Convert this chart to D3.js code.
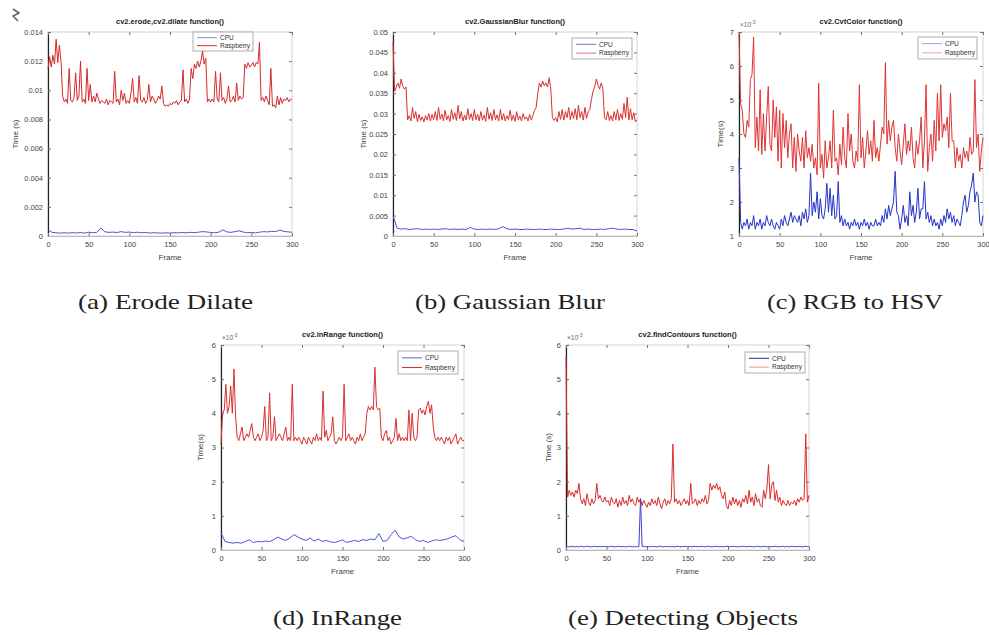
<!DOCTYPE html>
<html><head><meta charset="utf-8">
<script src="https://cdn.jsdelivr.net/npm/d3@7"></script>
<style>body{margin:0;background:#fff}svg{display:block}</style>
</head><body>
<svg id="fig" width="989" height="635"></svg>
<script>
// ---------------- DATA (values in units of 10^-3 s) ----------------
const frameTicks = [0, 50, 100, 150, 200, 250, 300];
const seriesNames = ["CPU", "Raspberry"];
const titles = ["cv2.erode,cv2.dilate function()", "cv2.GaussianBlur function()", "cv2.CvtColor function()", "cv2.inRange function()", "cv2.findContours function()"];
const captions = ["(a) Erode Dilate", "(b) Gaussian Blur", "(c) RGB to HSV", "(d) InRange", "(e) Detecting Objects"];
const yLabels = ["Time (s)", "Time (s)", "Time(s)", "Time(s)", "Time (s)"];

const yTicksA = [0, 2, 4, 6, 8, 10, 12, 14];
const yTickLabelsA = ["0", "0.002", "0.004", "0.006", "0.008", "0.01", "0.012", "0.014"];
const yTicksB = [0, 5, 10, 15, 20, 25, 30, 35, 40, 45, 50];
const yTickLabelsB = ["0", "0.005", "0.01", "0.015", "0.02", "0.025", "0.03", "0.035", "0.04", "0.045", "0.05"];
const yTicksC = [1, 2, 3, 4, 5, 6, 7];
const yTickLabelsC = ["1", "2", "3", "4", "5", "6", "7"];
const yTicksD = [0, 1, 2, 3, 4, 5, 6];
const yTickLabelsD = ["0", "1", "2", "3", "4", "5", "6"];
const yTicksE = [0, 1, 2, 3, 4, 5, 6];
const yTickLabelsE = ["0", "1", "2", "3", "4", "5", "6"];

// (a) erode/dilate — Raspberry every 2 frames, CPU every 5 frames
const raspA = [
 11.5,12.3,11.6,12.4,11.8,13.5,11.9,13.1,12.0,9.6,
 9.2,9.4,9.1,11.5,9.3,9.2,9.5,11.2,9.3,9.6,
 12.0,9.2,9.4,9.1,11.5,9.3,10.4,9.2,9.6,9.2,
 9.8,9.4,9.1,9.3,9.2,9.1,9.4,9.0,9.3,9.2,
 9.1,11.3,9.2,9.4,9.0,10.0,9.3,9.8,9.1,9.3,
 9.1,9.8,10.8,9.2,9.5,9.1,11.0,9.3,9.2,9.5,
 9.1,9.3,10.4,9.2,9.6,9.4,9.1,9.3,9.6,9.4,
 10.3,9.1,8.9,9.0,8.9,9.1,9.0,9.2,9.1,9.3,
 9.0,9.2,9.3,11.4,9.2,9.4,9.1,9.4,11.5,10.8,
 11.8,11.5,12.0,11.6,12.0,12.7,11.8,12.2,9.2,9.4,
 9.2,9.4,9.2,11.3,9.4,9.2,11.2,9.3,9.5,9.1,
 9.4,10.3,9.2,9.3,9.6,9.2,10.5,9.3,9.6,9.4,
 9.5,11.8,11.5,11.9,11.6,11.7,11.9,11.6,11.9,11.8,
 13.3,9.3,9.5,9.2,9.6,9.3,9.0,11.5,8.9,9.0,
 8.8,9.6,9.0,9.5,9.1,9.4,9.3,9.5,9.2,9.4,
 9.3];
const cpuA = [
 0.42,0.25,0.22,0.2,0.22,0.2,0.23,0.21,0.24,0.2,
 0.26,0.22,0.25,0.55,0.28,0.25,0.27,0.24,0.3,0.25,
 0.27,0.23,0.26,0.22,0.24,0.2,0.23,0.21,0.2,0.22,
 0.2,0.23,0.21,0.24,0.22,0.25,0.23,0.26,0.3,0.28,
 0.24,0.22,0.26,0.42,0.28,0.25,0.3,0.36,0.27,0.22,
 0.25,0.21,0.26,0.3,0.28,0.32,0.3,0.4,0.32,0.28,
 0.26];

// (b) GaussianBlur
const raspB = [
 47.5,35.5,36.5,37.5,36.2,38.5,36.8,36.0,36.5,28.5,
 29.5,28.2,31.5,28.8,30.5,28.0,29.8,28.3,29.2,28.0,
 29.5,28.4,30.0,28.2,29.8,28.5,30.5,28.3,31.5,28.6,
 29.9,28.2,30.8,28.5,29.5,28.1,31.0,28.6,30.2,28.3,
 32.0,28.7,30.5,28.2,29.6,28.4,31.2,28.6,30.0,28.3,
 31.0,28.5,29.8,28.2,30.5,28.4,29.6,28.1,31.5,28.6,
 30.2,28.3,31.0,28.5,29.7,28.2,31.0,28.4,30.0,28.2,
 29.5,28.5,30.8,28.3,29.6,28.1,30.5,28.5,29.4,28.2,
 30.0,28.6,29.2,28.2,29.8,28.4,29.5,30.8,31.5,35.0,
 37.5,36.5,38.0,36.8,37.5,36.5,38.8,36.0,29.0,28.3,
 29.0,28.0,30.5,28.6,31.0,28.4,30.5,29.0,31.5,28.5,
 30.5,28.8,31.2,28.5,32.0,29.0,30.5,28.4,31.5,28.8,
 30.5,31.0,33.5,35.5,36.5,38.5,37.0,36.0,37.5,36.2,
 29.0,28.5,30.5,28.3,29.5,28.2,30.5,28.5,31.0,28.3,
 30.0,28.6,32.5,29.0,34.0,28.4,31.2,28.5,30.2,28.0,
 28.5];
const cpuB = [
 5.0,1.9,1.7,1.8,1.6,1.7,1.8,1.6,1.7,1.6,
 1.7,1.6,1.7,1.8,1.6,1.7,1.6,1.7,1.6,2.1,
 1.7,1.6,1.7,1.6,1.7,1.6,1.8,2.3,1.8,1.6,
 1.7,1.6,1.6,1.7,1.6,1.6,1.7,1.6,1.6,1.7,
 1.6,1.6,1.7,1.9,1.7,1.8,1.9,1.6,1.7,1.6,
 1.6,1.7,1.6,1.8,1.9,1.7,1.6,1.7,1.6,1.6,
 1.2];

// (c) CvtColor — both every 2 frames
const raspC = [
 7.0,4.9,4.7,4.0,3.9,4.4,4.2,5.6,5.75,6.85,
 3.6,4.5,3.5,5.3,3.4,4.6,3.5,4.5,5.4,3.7,
 3.5,5.0,3.9,4.8,3.2,4.7,3.0,4.6,3.6,4.4,
 3.3,4.0,4.3,3.0,3.9,2.9,4.0,3.5,3.2,3.9,
 3.0,4.1,3.3,3.6,3.2,3.7,3.0,3.3,2.8,5.5,
 3.0,3.4,2.7,3.8,3.0,3.3,3.8,3.0,4.7,3.2,
 3.3,2.8,3.7,3.1,4.2,3.3,3.0,4.6,3.5,4.0,
 3.2,3.0,3.5,3.2,5.45,3.3,3.9,3.0,3.5,4.1,
 3.4,3.8,3.2,4.4,3.3,3.6,3.2,3.7,4.2,4.0,
 6.1,3.7,4.4,3.8,4.2,4.4,3.6,3.2,4.0,3.5,
 3.1,3.7,4.3,3.4,3.8,3.5,4.2,3.3,3.0,3.8,
 3.4,3.8,4.5,3.0,3.8,5.45,2.9,3.6,4.0,3.2,
 4.4,3.5,5.2,3.8,5.45,3.9,4.3,4.1,4.5,3.6,
 5.2,3.8,3.8,3.0,3.6,3.2,3.4,3.0,3.6,3.3,
 3.5,3.2,3.9,3.4,3.5,5.6,3.6,4.0,2.9,3.5,
 3.9];
const cpuC = [
 3.3,1.4,1.2,1.4,1.3,1.5,1.2,1.4,1.3,1.6,
 1.2,1.4,1.3,1.5,1.2,1.4,1.3,1.6,1.4,1.3,
 1.5,1.3,1.2,1.4,1.3,1.2,1.5,1.3,1.6,1.4,
 1.3,1.5,1.7,1.4,1.6,1.5,1.4,1.6,1.3,1.7,
 1.5,1.8,1.4,1.6,2.85,1.6,2.0,1.7,2.3,1.5,
 2.1,1.6,1.5,1.8,2.55,1.7,2.4,1.6,2.2,1.5,
 1.6,2.6,1.4,1.6,1.3,1.5,1.3,1.4,1.2,1.4,
 1.3,1.5,1.3,1.4,1.2,1.4,1.3,1.5,1.3,1.4,
 1.2,1.4,1.3,1.3,1.5,1.3,1.4,1.3,1.6,1.4,
 1.8,1.5,1.9,1.6,1.8,2.0,2.9,1.7,1.6,1.2,
 1.5,1.9,1.4,1.6,1.3,2.3,1.6,1.9,1.4,1.7,
 2.4,1.5,1.8,1.8,2.6,1.5,1.7,1.4,1.6,1.3,
 1.5,1.3,1.4,1.2,1.5,1.3,1.6,1.4,1.8,1.5,
 1.7,1.4,1.6,1.3,1.5,1.4,1.3,1.6,2.0,2.2,
 1.7,1.9,2.3,2.5,2.85,2.0,2.3,2.2,1.4,1.3,
 1.6];

// (d) inRange — Raspberry every 2 frames, CPU every 5 frames
const raspD = [
 3.1,4.0,4.1,4.85,4.0,4.2,4.8,4.0,5.3,3.9,
 3.3,3.2,3.4,3.6,3.2,3.3,3.4,3.3,3.5,3.7,
 3.3,3.2,3.3,3.4,3.2,3.3,3.5,4.2,3.2,3.3,
 4.6,3.2,3.3,3.9,3.2,3.3,3.4,3.3,3.2,3.4,
 3.6,3.2,3.3,3.2,4.85,3.2,3.3,3.2,3.3,3.2,
 3.1,3.3,3.2,3.1,3.3,3.2,3.1,3.3,3.2,3.4,
 3.2,3.3,3.2,4.65,3.3,3.5,3.2,3.3,3.4,3.9,
 3.2,3.1,3.2,3.3,3.2,3.3,4.85,3.2,3.3,3.4,
 3.2,3.3,3.2,3.1,3.3,3.2,3.4,3.2,3.3,3.4,
 4.0,4.2,4.1,4.2,4.1,5.35,4.2,4.1,4.15,3.3,
 3.2,3.4,3.5,3.2,3.3,3.1,3.2,3.3,3.85,3.2,
 3.4,3.2,3.3,3.2,3.3,3.2,4.1,3.2,4.0,3.3,
 3.2,3.3,4.1,4.15,4.0,4.1,3.95,4.2,4.35,4.0,
 4.25,3.6,3.3,3.2,3.3,3.2,3.3,3.2,3.1,3.3,
 3.2,3.3,3.1,3.2,3.3,3.4,3.1,3.2,3.3,3.2,
 3.2];
const cpuD = [
 0.5,0.25,0.22,0.2,0.22,0.2,0.25,0.3,0.22,0.25,
 0.24,0.26,0.25,0.3,0.38,0.32,0.28,0.35,0.45,0.38,
 0.32,0.28,0.35,0.26,0.32,0.25,0.28,0.24,0.22,0.25,
 0.3,0.22,0.25,0.28,0.25,0.3,0.28,0.32,0.3,0.48,
 0.25,0.28,0.45,0.58,0.38,0.32,0.36,0.4,0.3,0.25,
 0.28,0.22,0.26,0.3,0.28,0.3,0.33,0.38,0.42,0.3,
 0.25];

// (e) findContours — both every 2 frames
const raspE = [
 5.65,1.55,1.75,1.6,1.7,1.55,1.75,1.65,1.95,1.5,
 1.35,1.5,1.3,1.65,1.4,1.3,1.5,1.35,1.45,1.95,
 1.5,1.6,1.45,1.4,1.55,1.4,1.45,1.3,1.55,1.4,
 1.35,1.5,1.25,1.45,1.3,1.55,1.35,1.45,1.3,1.6,
 1.4,1.5,1.35,1.3,1.55,1.4,1.5,1.3,1.45,1.35,
 1.25,1.4,1.3,1.5,1.35,1.45,1.3,1.55,1.35,1.2,
 1.4,1.5,1.3,1.45,1.35,1.5,3.1,1.4,1.5,1.35,
 1.45,1.3,1.4,1.5,1.35,1.45,1.3,1.95,1.35,1.4,
 1.5,1.3,1.45,1.35,1.5,1.4,1.6,1.35,1.45,1.95,
 1.75,1.9,1.8,1.95,1.75,1.85,1.6,1.5,1.7,1.3,
 1.2,1.45,1.3,1.55,1.35,1.5,1.3,1.45,1.25,1.5,
 1.4,1.6,1.35,1.75,1.4,1.55,1.3,1.65,1.4,1.5,
 1.3,1.25,1.75,1.5,1.8,2.5,1.5,1.9,2.0,1.45,
 1.75,1.4,1.55,1.3,1.45,1.35,1.3,1.45,1.3,1.4,
 1.35,1.45,1.3,1.5,1.4,1.55,1.45,1.5,3.4,1.4,
 1.6];
const cpuE = [
 0.12,0.1,0.09,0.1,0.11,0.09,0.1,0.1,0.09,0.11,
 0.1,0.09,0.1,0.11,0.1,0.09,0.1,0.1,0.11,0.09,
 0.1,0.1,0.09,0.11,0.1,0.1,0.09,0.1,0.11,0.1,
 0.09,0.1,0.1,0.11,0.09,0.1,0.1,0.09,0.1,0.11,
 0.1,0.09,0.1,0.1,0.09,0.1,1.5,0.1,0.11,0.09,
 0.1,0.1,0.09,0.11,0.1,0.1,0.09,0.1,0.11,0.1,
 0.09,0.1,0.1,0.11,0.09,0.1,0.1,0.09,0.1,0.11,
 0.1,0.09,0.1,0.1,0.11,0.09,0.1,0.1,0.09,0.11,
 0.1,0.1,0.09,0.11,0.1,0.1,0.09,0.1,0.11,0.1,
 0.09,0.1,0.1,0.11,0.09,0.1,0.1,0.09,0.1,0.11,
 0.1,0.09,0.1,0.1,0.11,0.09,0.1,0.1,0.09,0.11,
 0.1,0.1,0.09,0.11,0.1,0.1,0.09,0.1,0.11,0.1,
 0.09,0.1,0.1,0.11,0.09,0.1,0.1,0.09,0.1,0.11,
 0.1,0.09,0.1,0.1,0.11,0.09,0.1,0.1,0.09,0.11,
 0.1,0.1,0.09,0.11,0.1,0.1,0.09,0.1,0.11,0.1,
 0.1];

// ---------------- LAYOUT / STYLE ----------------
const panels = [
  {L:48, R:292, T:32, B:236, dom:[0,14], ticks:yTicksA, labels:yTickLabelsA, exp:false,
   cpu:cpuA, cpuStep:5, rasp:raspA, raspStep:2, leg:[193,32,60,19], ylx:18, cpuCol:"#4a55d8", raspCol:"#d42a2a", legCpu:"#8088e0", legRasp:"#c83030"},
  {L:393, R:637, T:32, B:236, dom:[0,50], ticks:yTicksB, labels:yTickLabelsB, exp:false,
   cpu:cpuB, cpuStep:5, rasp:raspB, raspStep:2, leg:[572,38,60,21], ylx:366, cpuCol:"#4a55d8", raspCol:"#d83030", legCpu:"#6a74dd", legRasp:"#e07070"},
  {L:739, R:983, T:32, B:236, dom:[1,7], ticks:yTicksC, labels:yTickLabelsC, exp:true,
   cpu:cpuC, cpuStep:2, rasp:raspC, raspStep:2, leg:[918,37,59,22], ylx:723, cpuCol:"#2433c8", raspCol:"#e03434", legCpu:"#9aa0e8", legRasp:"#f0a0a0"},
  {L:221, R:464, T:345, B:550, dom:[0,6], ticks:yTicksD, labels:yTickLabelsD, exp:true,
   cpu:cpuD, cpuStep:5, rasp:raspD, raspStep:2, leg:[398,351,60,23], ylx:203, cpuCol:"#4a55d8", raspCol:"#d83030", legCpu:"#5a64d8", legRasp:"#c83030"},
  {L:566, R:809, T:345, B:550, dom:[0,6], ticks:yTicksE, labels:yTickLabelsE, exp:true,
   cpu:cpuE, cpuStep:2, rasp:raspE, raspStep:2, leg:[745,352,60,21], ylx:551, cpuCol:"#3a44c8", raspCol:"#dc2c2c", legCpu:"#1a2aa0", legRasp:"#f09090"}
];
const capPos = [[78,309,175],[415,309,190],[767,309,176],[273,625,129],[568,625,230]];

const svg = d3.select("#fig");
const sans = "'Liberation Sans', Arial, sans-serif";

panels.forEach((p, i) => {
  const x = d3.scaleLinear().domain([0, 300]).range([p.L, p.R]);
  const y = d3.scaleLinear().domain(p.dom).range([p.B, p.T]);
  const g = svg.append("g");

  g.append("rect").attr("x", p.L).attr("y", p.T).attr("width", p.R - p.L).attr("height", p.B - p.T)
    .attr("fill", "none").attr("stroke", "#d4d4d4").attr("stroke-width", 1);

  const yAxis = d3.axisLeft(y).tickValues(p.ticks).tickFormat((d, k) => p.labels[k]).tickSize(-3).tickPadding(5);
  const ya = g.append("g").attr("transform", `translate(${p.L},0)`).call(yAxis);
  ya.select(".domain").attr("stroke", "#222").attr("stroke-width", 1.2);
  ya.selectAll(".tick line").attr("stroke", "#666");
  ya.selectAll("text").attr("font-family", sans).attr("font-size", 7.5).attr("fill", "#444");
  const yr = g.append("g").attr("transform", `translate(${p.R},0)`).call(d3.axisRight(y).tickValues(p.ticks).tickSize(-3).tickFormat(""));
  yr.select(".domain").remove();
  yr.selectAll(".tick line").attr("stroke", "#777");

  const xa = g.append("g").attr("transform", `translate(0,${p.B})`).call(d3.axisBottom(x).tickValues(frameTicks).tickSize(-3).tickPadding(6));
  xa.select(".domain").attr("stroke", "#bbb");
  xa.selectAll(".tick line").attr("stroke", "#777");
  xa.selectAll("text").attr("font-family", sans).attr("font-size", 7.5).attr("fill", "#444");
  const xt = g.append("g").attr("transform", `translate(0,${p.T})`).call(d3.axisTop(x).tickValues(frameTicks).tickSize(-3).tickFormat(""));
  xt.select(".domain").remove();
  xt.selectAll(".tick line").attr("stroke", "#777");

  const line = step => d3.line().x((d, k) => x(k * step)).y(d => y(d));
  g.append("path").datum(p.rasp).attr("d", line(p.raspStep)).attr("fill", "none")
    .attr("stroke", p.raspCol).attr("stroke-width", 1).attr("stroke-linejoin", "round");
  g.append("path").datum(p.cpu).attr("d", line(p.cpuStep)).attr("fill", "none")
    .attr("stroke", p.cpuCol).attr("stroke-width", 1).attr("stroke-linejoin", "round");

  g.append("text").attr("x", (p.L + p.R) / 2).attr("y", p.T - 8).attr("text-anchor", "middle")
    .attr("font-family", sans).attr("font-size", 7.5).attr("font-weight", "bold").attr("fill", "#222").text(titles[i]);
  if (p.exp) {
    const t = g.append("text").attr("x", p.L + 1).attr("y", p.T - 5).attr("font-family", sans)
      .attr("font-size", 6.5).attr("fill", "#666");
    t.append("tspan").text("×10");
    t.append("tspan").attr("dy", -3).attr("font-size", 5).text("-3");
  }
  g.append("text").attr("x", (p.L + p.R) / 2).attr("y", p.B + 24).attr("text-anchor", "middle")
    .attr("font-family", sans).attr("font-size", 8).attr("fill", "#444").text("Frame");
  g.append("text").attr("transform", `translate(${p.ylx},${(p.T + p.B) / 2}) rotate(-90)`).attr("text-anchor", "middle")
    .attr("font-family", sans).attr("font-size", 8).attr("fill", "#444").text(yLabels[i]);

  const [lx, ly, lw, lh] = p.leg;
  g.append("rect").attr("x", lx).attr("y", ly).attr("width", lw).attr("height", lh)
    .attr("fill", "#fff").attr("stroke", "#999").attr("stroke-width", 0.8);
  const legCols = [p.legCpu, p.legRasp];
  seriesNames.forEach((nm, k) => {
    const yy = ly + lh * (k === 0 ? 0.3 : 0.72);
    g.append("line").attr("x1", lx + 4).attr("x2", lx + 24).attr("y1", yy).attr("y2", yy)
      .attr("stroke", legCols[k]).attr("stroke-width", 1);
    g.append("text").attr("x", lx + 27).attr("y", yy + 2.3).attr("font-family", sans)
      .attr("font-size", 6.5).attr("fill", "#333").text(nm);
  });
});

captions.forEach((c, i) => {
  const [cx, cy, w] = capPos[i];
  svg.append("text").attr("x", cx).attr("y", cy).attr("font-family", "'Liberation Serif', 'DejaVu Serif', serif")
    .attr("font-size", 21).attr("fill", "#222").attr("textLength", w).attr("lengthAdjust", "spacingAndGlyphs").text(c);
});

svg.append("path").attr("d", "M13,9 L19,13 L13,16 L18,21").attr("fill", "none")
  .attr("stroke", "#666").attr("stroke-width", 1.6).attr("stroke-linejoin", "round");
</script>
</body></html>
